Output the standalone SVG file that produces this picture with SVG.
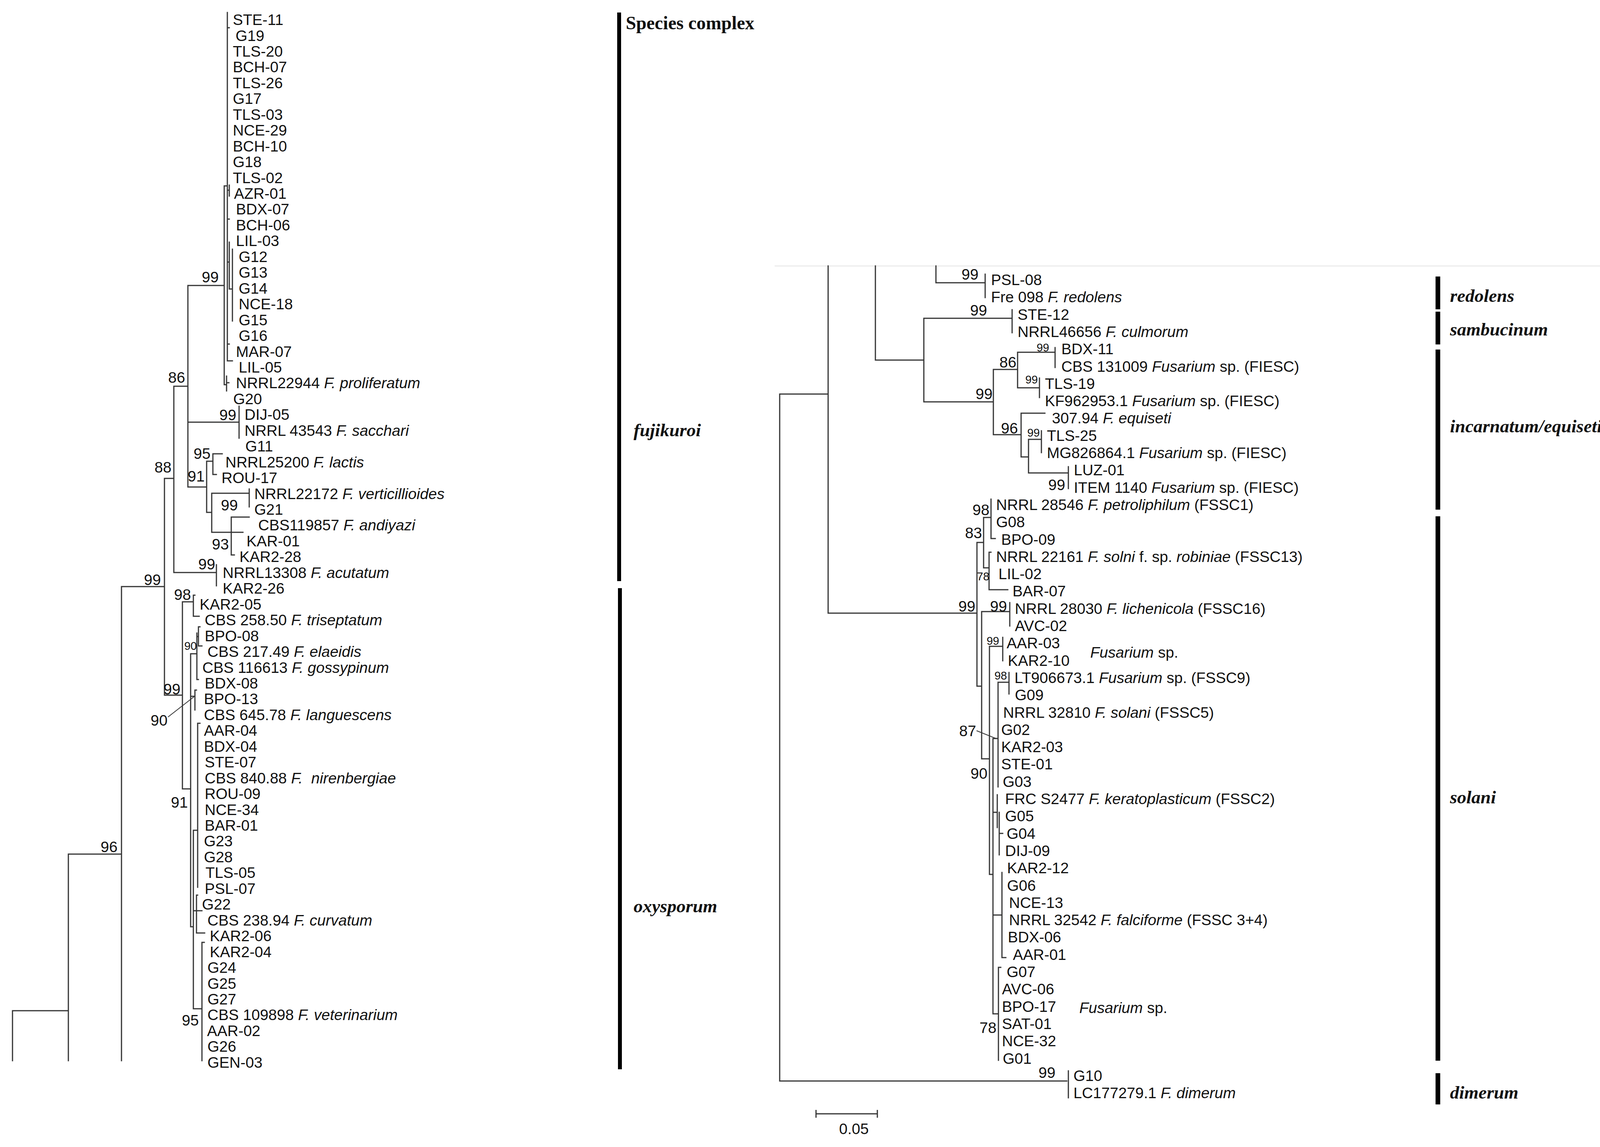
<svg xmlns="http://www.w3.org/2000/svg" width="4128" height="2937" viewBox="0 0 4128 2937">
<style>
text{font-family:"Liberation Sans",Arial,sans-serif;fill:#111}
.lf{font-size:39px}
.it{font-style:italic}
.bs{font-size:39px;text-anchor:end}
.bss{font-size:29px;text-anchor:end}
.cx{font-family:"Liberation Serif","Times New Roman",serif;font-weight:bold;font-style:italic;font-size:47px}
.hd{font-family:"Liberation Serif","Times New Roman",serif;font-weight:bold;font-size:47.6px}
.br{fill:none;stroke:#333;stroke-width:3;stroke-linecap:square}
.bar{fill:#000}
</style>
<rect width="4128" height="2937" fill="#fff"/>
<g id="connectors">
<path class="br" d="M32,2588V2716M32,2588H175M175,2187V2716M175,2187H311M311,1502V2716M311,1502H421M421,1225V1780M421,1225H445M445,989V1466M445,989H481M445,1466H554M554,1446V1500
M481,731V1247M481,731H574M481,1081H612M481,1247H529
M574,476V985M574,476H582M574,985H580M580,963V1001M580,980H586
M582,32V924M582,71H587M582,487H587M587,474V502M582,561H587M582,671H587M587,620V740M587,740H595M595,638V822M582,881H587M582,924H595
M612,1040V1122
M529,1181V1312M529,1181H545M545,1162V1215M545,1162H569M545,1215H554M529,1312H542M542,1263V1363M542,1263H638M638,1252V1298M542,1363H622M592,1324V1421M592,1324H638M592,1421H600
M421,1780H467M467,1541V2020M467,1541H495M495,1524V1578M495,1524H499M495,1578H510
M467,2020H488M488,1674V2373M488,1674H504M504,1621V1740M504,1630H508M508,1605V1654M508,1605H512M508,1654H517M504,1740H508
M488,1783H499M499,1767V1818M499,1767H503
M488,2373H495M495,2126V2583M495,2126H506M506,1852V2272M506,1852H512
M495,2332H503M503,2292V2389M503,2292H506M503,2332H517M503,2389H524
M495,2583H517M517,2413V2716M517,2413H523"/>
<path d="M430,1836L498,1783" fill="none" stroke="#333" stroke-width="2"/>
<path d="M1983,681H4128" fill="none" stroke="#ececec" stroke-width="3"/>
<path class="br" d="M1996,1009V2768M1996,1009H2120M1996,2768H2731M2735,2742V2811
M2120,681V1570M2120,1570H2501
M2241,681V922M2241,922H2365
M2396,681V724M2396,724H2522M2522,702V762
M2365,815V1029M2365,815H2591M2591,793V852
M2365,1029H2543M2543,946V1113M2543,946H2605M2605,902V993M2605,902H2701M2701,890V941M2605,993H2661M2661,968V1018
M2543,1113H2614M2614,1058V1170M2614,1058H2675M2614,1170H2633M2633,1125V1211M2633,1125H2666M2666,1103V1159M2633,1211H2735M2735,1195V1251
M2501,1389V1757M2501,1389H2518M2518,1325V1454M2518,1325H2537M2537,1278V1379M2537,1379H2548M2518,1454H2532M2532,1414V1510M2532,1414H2537M2532,1510H2580
M2501,1757H2513M2513,1566V1943M2513,1566H2585M2585,1543V1603M2513,1943H2533M2533,1655V2239M2533,1655H2567M2567,1632V1692
M2533,2239H2542M2542,1891V2596M2542,1891H2555M2555,1747V2015M2555,1747H2583M2583,1722V1777
M2542,2080H2553M2553,2035V2119M2558,2080V2189M2558,2134H2567
M2542,2343H2565M2565,2234V2452M2565,2452H2575
M2542,2596H2556M2556,2477V2715M2556,2477H2562"/>
<path d="M2500,1871L2550,1891" fill="none" stroke="#333" stroke-width="2"/>
<path d="M2089,2852H2246M2089,2842V2862M2246,2842V2862" fill="none" stroke="#333" stroke-width="3"/>
</g>
<g id="bootstrap">
<text class="bs" x="560" y="723">99</text>
<text class="bs" x="474" y="980">86</text>
<text class="bs" x="439" y="1210">88</text>
<text class="bs" x="412" y="1498">99</text>
<text class="bs" x="301" y="2182">96</text>
<text class="bs" x="605" y="1076">99</text>
<text class="bs" x="539" y="1175">95</text>
<text class="bs" x="524" y="1233">91</text>
<text class="bs" x="609" y="1307">99</text>
<text class="bs" x="586" y="1407">93</text>
<text class="bs" x="551" y="1458">99</text>
<text class="bs" x="489" y="1536">98</text>
<text class="bs" x="462" y="1778">99</text>
<text class="bss" x="504" y="1664">90</text>
<text class="bs" x="429" y="1858">90</text>
<text class="bs" x="481" y="2068">91</text>
<text class="bs" x="509" y="2626">95</text>
<text class="bs" x="2505" y="716">99</text>
<text class="bs" x="2527" y="808">99</text>
<text class="bss" x="2686" y="900">99</text>
<text class="bs" x="2602" y="941">86</text>
<text class="bss" x="2657" y="982">99</text>
<text class="bs" x="2541" y="1022">99</text>
<text class="bs" x="2606" y="1110">96</text>
<text class="bss" x="2662" y="1118">99</text>
<text class="bs" x="2727" y="1255">99</text>
<text class="bs" x="2533" y="1319">98</text>
<text class="bs" x="2514" y="1378">83</text>
<text class="bss" x="2533" y="1486">78</text>
<text class="bs" x="2497" y="1566">99</text>
<text class="bs" x="2578" y="1566">99</text>
<text class="bss" x="2558" y="1651">99</text>
<text class="bss" x="2578" y="1740">98</text>
<text class="bs" x="2499" y="1885">87</text>
<text class="bs" x="2528" y="1994">90</text>
<text class="bs" x="2551" y="2645">78</text>
<text class="bs" x="2702" y="2760">99</text>
</g>
<g id="left-leaves">
<g id="L1"><text class="lf" x="596" y="64">STE-11</text></g>
<g id="L2"><text class="lf" x="603" y="104.5">G19</text></g>
<g id="L3"><text class="lf" x="596" y="145">TLS-20</text></g>
<g id="L4"><text class="lf" x="596" y="185.4">BCH-07</text></g>
<g id="L5"><text class="lf" x="596" y="225.8">TLS-26</text></g>
<g id="L6"><text class="lf" x="596" y="266.3">G17</text></g>
<g id="L7"><text class="lf" x="596" y="306.7">TLS-03</text></g>
<g id="L8"><text class="lf" x="596" y="347.2">NCE-29</text></g>
<g id="L9"><text class="lf" x="596" y="387.6">BCH-10</text></g>
<g id="L10"><text class="lf" x="596" y="428.1">G18</text></g>
<g id="L11"><text class="lf" x="596" y="468.5">TLS-02</text></g>
<g id="L12"><text class="lf" x="599" y="509">AZR-01</text></g>
<g id="L13"><text class="lf" x="604" y="549.4">BDX-07</text></g>
<g id="L14"><text class="lf" x="604" y="589.9">BCH-06</text></g>
<g id="L15"><text class="lf" x="604" y="630.3">LIL-03</text></g>
<g id="L16"><text class="lf" x="611" y="670.8">G12</text></g>
<g id="L17"><text class="lf" x="611" y="711.2">G13</text></g>
<g id="L18"><text class="lf" x="611" y="751.7">G14</text></g>
<g id="L19"><text class="lf" x="611" y="792.1">NCE-18</text></g>
<g id="L20"><text class="lf" x="611" y="832.6">G15</text></g>
<g id="L21"><text class="lf" x="611" y="873">G16</text></g>
<g id="L22"><text class="lf" x="604" y="913.5">MAR-07</text></g>
<g id="L23"><text class="lf" x="611" y="953.9">LIL-05</text></g>
<g id="L24"><text class="lf" x="604" y="994.4">NRRL22944 <tspan class="it">F. proliferatum</tspan></text></g>
<g id="L25"><text class="lf" x="597" y="1034.8">G20</text></g>
<g id="L26"><text class="lf" x="626" y="1075.3">DIJ-05</text></g>
<g id="L27"><text class="lf" x="626" y="1115.7">NRRL 43543 <tspan class="it">F. sacchari</tspan></text></g>
<g id="L28"><text class="lf" x="628" y="1156.2">G11</text></g>
<g id="L29"><text class="lf" x="577" y="1196.6">NRRL25200 <tspan class="it">F. lactis</tspan></text></g>
<g id="L30"><text class="lf" x="567" y="1237.1">ROU-17</text></g>
<g id="L31"><text class="lf" x="651" y="1277.5">NRRL22172 <tspan class="it">F. verticillioides</tspan></text></g>
<g id="L32"><text class="lf" x="651" y="1318">G21</text></g>
<g id="L33"><text class="lf" x="661" y="1358.4">CBS119857 <tspan class="it">F. andiyazi</tspan></text></g>
<g id="L34"><text class="lf" x="631" y="1398.9">KAR-01</text></g>
<g id="L35"><text class="lf" x="613" y="1439.3">KAR2-28</text></g>
<g id="L36"><text class="lf" x="570" y="1479.8">NRRL13308 <tspan class="it">F. acutatum</tspan></text></g>
<g id="L37"><text class="lf" x="570" y="1520.2">KAR2-26</text></g>
<g id="L38"><text class="lf" x="511" y="1560.7">KAR2-05</text></g>
<g id="L39"><text class="lf" x="524" y="1601.1">CBS 258.50 <tspan class="it">F. triseptatum</tspan></text></g>
<g id="L40"><text class="lf" x="524" y="1641.6">BPO-08</text></g>
<g id="L41"><text class="lf" x="531" y="1682">CBS 217.49 <tspan class="it">F. elaeidis</tspan></text></g>
<g id="L42"><text class="lf" x="518" y="1722.5">CBS 116613 <tspan class="it">F. gossypinum</tspan></text></g>
<g id="L43"><text class="lf" x="524" y="1762.9">BDX-08</text></g>
<g id="L44"><text class="lf" x="522" y="1803.4">BPO-13</text></g>
<g id="L45"><text class="lf" x="522" y="1843.8">CBS 645.78 <tspan class="it">F. languescens</tspan></text></g>
<g id="L46"><text class="lf" x="522" y="1884.3">AAR-04</text></g>
<g id="L47"><text class="lf" x="522" y="1924.7">BDX-04</text></g>
<g id="L48"><text class="lf" x="524" y="1965.2">STE-07</text></g>
<g id="L49"><text class="lf" x="524" y="2005.6">CBS 840.88 <tspan class="it">F.</tspan><tspan class="it" dx="22">nirenbergiae</tspan></text></g>
<g id="L50"><text class="lf" x="524" y="2046.1">ROU-09</text></g>
<g id="L51"><text class="lf" x="524" y="2086.5">NCE-34</text></g>
<g id="L52"><text class="lf" x="524" y="2127">BAR-01</text></g>
<g id="L53"><text class="lf" x="522" y="2167.4">G23</text></g>
<g id="L54"><text class="lf" x="522" y="2207.9">G28</text></g>
<g id="L55"><text class="lf" x="526" y="2248.3">TLS-05</text></g>
<g id="L56"><text class="lf" x="524" y="2288.8">PSL-07</text></g>
<g id="L57"><text class="lf" x="517" y="2329.2">G22</text></g>
<g id="L58"><text class="lf" x="531" y="2369.7">CBS 238.94 <tspan class="it">F. curvatum</tspan></text></g>
<g id="L59"><text class="lf" x="537" y="2410.1">KAR2-06</text></g>
<g id="L60"><text class="lf" x="537" y="2450.6">KAR2-04</text></g>
<g id="L61"><text class="lf" x="531" y="2491">G24</text></g>
<g id="L62"><text class="lf" x="531" y="2531.5">G25</text></g>
<g id="L63"><text class="lf" x="531" y="2571.9">G27</text></g>
<g id="L64"><text class="lf" x="531" y="2612.4">CBS 109898 <tspan class="it">F. veterinarium</tspan></text></g>
<g id="L65"><text class="lf" x="530" y="2652.8">AAR-02</text></g>
<g id="L66"><text class="lf" x="531" y="2693.3">G26</text></g>
<g id="L67"><text class="lf" x="531" y="2733.7">GEN-03</text></g>
</g>
<g id="right-leaves">
<g id="R1"><text class="lf" x="2537" y="730">PSL-08</text></g>
<g id="R2"><text class="lf" x="2537" y="774.3">Fre 098 <tspan class="it">F. redolens</tspan></text></g>
<g id="R3"><text class="lf" x="2605" y="818.6">STE-12</text></g>
<g id="R4"><text class="lf" x="2605" y="862.9">NRRL46656 <tspan class="it">F. culmorum</tspan></text></g>
<g id="R5"><text class="lf" x="2717" y="907.2">BDX-11</text></g>
<g id="R6"><text class="lf" x="2717" y="951.5">CBS 131009 <tspan class="it">Fusarium</tspan> sp. (FIESC)</text></g>
<g id="R7"><text class="lf" x="2675" y="995.8">TLS-19</text></g>
<g id="R8"><text class="lf" x="2675" y="1040.1">KF962953.1 <tspan class="it">Fusarium</tspan> sp. (FIESC)</text></g>
<g id="R9"><text class="lf" x="2693" y="1084.4">307.94 <tspan class="it">F. equiseti</tspan></text></g>
<g id="R10"><text class="lf" x="2680" y="1128.7">TLS-25</text></g>
<g id="R11"><text class="lf" x="2680" y="1173">MG826864.1 <tspan class="it">Fusarium</tspan> sp. (FIESC)</text></g>
<g id="R12"><text class="lf" x="2749" y="1217.3">LUZ-01</text></g>
<g id="R13"><text class="lf" x="2749" y="1261.6">ITEM 1140 <tspan class="it">Fusarium</tspan> sp. (FIESC)</text></g>
<g id="R14"><text class="lf" x="2550" y="1305.9">NRRL 28546 <tspan class="it">F. petroliphilum</tspan> (FSSC1)</text></g>
<g id="R15"><text class="lf" x="2550" y="1350.2">G08</text></g>
<g id="R16"><text class="lf" x="2563" y="1394.5">BPO-09</text></g>
<g id="R17"><text class="lf" x="2550" y="1438.8">NRRL 22161 <tspan class="it">F. solni</tspan> f. sp. <tspan class="it">robiniae</tspan> (FSSC13)</text></g>
<g id="R18"><text class="lf" x="2556" y="1483.1">LIL-02</text></g>
<g id="R19"><text class="lf" x="2592" y="1527.4">BAR-07</text></g>
<g id="R20"><text class="lf" x="2598" y="1571.7">NRRL 28030 <tspan class="it">F. lichenicola</tspan> (FSSC16)</text></g>
<g id="R21"><text class="lf" x="2598" y="1616">AVC-02</text></g>
<g id="R22"><text class="lf" x="2577" y="1660.3">AAR-03</text></g>
<g id="R23"><text class="lf" x="2580" y="1704.6">KAR2-10</text></g>
<g id="R24"><text class="lf" x="2597" y="1748.9">LT906673.1 <tspan class="it">Fusarium</tspan> sp. (FSSC9)</text></g>
<g id="R25"><text class="lf" x="2598" y="1793.2">G09</text></g>
<g id="R26"><text class="lf" x="2568" y="1837.5">NRRL 32810 <tspan class="it">F. solani</tspan> (FSSC5)</text></g>
<g id="R27"><text class="lf" x="2563" y="1881.8">G02</text></g>
<g id="R28"><text class="lf" x="2563" y="1926.1">KAR2-03</text></g>
<g id="R29"><text class="lf" x="2563" y="1970.4">STE-01</text></g>
<g id="R30"><text class="lf" x="2567" y="2014.7">G03</text></g>
<g id="R31"><text class="lf" x="2573" y="2059">FRC S2477 <tspan class="it">F. keratoplasticum</tspan> (FSSC2)</text></g>
<g id="R32"><text class="lf" x="2573" y="2103.3">G05</text></g>
<g id="R33"><text class="lf" x="2577" y="2147.6">G04</text></g>
<g id="R34"><text class="lf" x="2573" y="2191.9">DIJ-09</text></g>
<g id="R35"><text class="lf" x="2578" y="2236.2">KAR2-12</text></g>
<g id="R36"><text class="lf" x="2578" y="2280.5">G06</text></g>
<g id="R37"><text class="lf" x="2583" y="2324.8">NCE-13</text></g>
<g id="R38"><text class="lf" x="2583" y="2369.1">NRRL 32542 <tspan class="it">F. falciforme</tspan> (FSSC 3+4)</text></g>
<g id="R39"><text class="lf" x="2580" y="2413.4">BDX-06</text></g>
<g id="R40"><text class="lf" x="2593" y="2457.7">AAR-01</text></g>
<g id="R41"><text class="lf" x="2577" y="2502">G07</text></g>
<g id="R42"><text class="lf" x="2565" y="2546.3">AVC-06</text></g>
<g id="R43"><text class="lf" x="2565" y="2590.6">BPO-17</text></g>
<g id="R44"><text class="lf" x="2565" y="2634.9">SAT-01</text></g>
<g id="R45"><text class="lf" x="2565" y="2679.2">NCE-32</text></g>
<g id="R46"><text class="lf" x="2567" y="2723.5">G01</text></g>
<g id="R47"><text class="lf" x="2748" y="2767.8">G10</text></g>
<g id="R48"><text class="lf" x="2748" y="2812.1">LC177279.1 <tspan class="it">F. dimerum</tspan></text></g>
<g id="fus1"><text class="lf" x="2791" y="1684"><tspan class="it">Fusarium</tspan> sp.</text></g>
<g id="fus2"><text class="lf" x="2763" y="2594"><tspan class="it">Fusarium</tspan> sp.</text></g>
</g>
<g id="scale"><text class="lf" x="2186" y="2904" text-anchor="middle">0.05</text></g>
<g id="complexes">
<rect class="bar" x="1580" y="32" width="10" height="1456"/>
<rect class="bar" x="1582" y="1506" width="10" height="1232"/>
<text class="hd" x="1602" y="75">Species complex</text>
<text class="cx" x="1622" y="1117">fujikuroi</text>
<text class="cx" x="1622" y="2336">oxysporum</text>
<rect class="bar" x="3675" y="708" width="12" height="84"/>
<rect class="bar" x="3675" y="798" width="12" height="84"/>
<rect class="bar" x="3675" y="895" width="12" height="410"/>
<rect class="bar" x="3675" y="1322" width="12" height="1394"/>
<rect class="bar" x="3675" y="2748" width="12" height="80"/>
<text class="cx" x="3712" y="773">redolens</text>
<text class="cx" x="3712" y="859">sambucinum</text>
<text class="cx" x="3712" y="1107">incarnatum/equiseti</text>
<text class="cx" x="3712" y="2057">solani</text>
<text class="cx" x="3712" y="2813">dimerum</text>
</g>
</svg>
